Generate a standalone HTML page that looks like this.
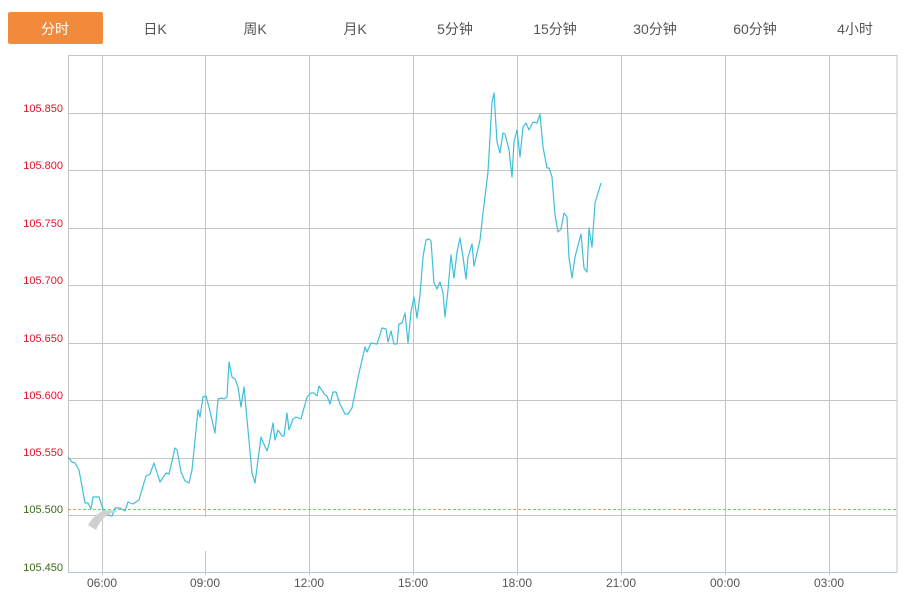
<!DOCTYPE html>
<html><head><meta charset="utf-8"><style>
body{margin:0;background:#fff;width:915px;height:595px;overflow:hidden;font-family:"Liberation Sans","Noto Sans CJK SC",sans-serif}
</style></head><body>
<svg width="915" height="595" xmlns="http://www.w3.org/2000/svg" style="position:absolute;left:0;top:0">
<rect x="8" y="12" width="95" height="32" rx="2" fill="#f28a3c"/>
<g font-size="14" fill="#555" text-anchor="middle" font-family="Liberation Sans,Noto Sans CJK SC,sans-serif">
<text x="55" y="34" fill="#fff">分时</text>
<text x="155" y="34">日K</text>
<text x="255" y="34">周K</text>
<text x="355" y="34">月K</text>
<text x="455" y="34">5分钟</text>
<text x="555" y="34">15分钟</text>
<text x="655" y="34">30分钟</text>
<text x="755" y="34">60分钟</text>
<text x="855" y="34">4小时</text>
</g>
<g stroke="#c4c4c4" stroke-width="1" fill="none">
<rect x="68.5" y="55.5" width="828.5" height="517"/>
<path d="M68 113.5H897M68 170.5H897M68 228.5H897M68 285.5H897M68 343.5H897M68 400.5H897M68 458.5H897M68 515.5H897"/>
<path d="M102.5 55V575M205.5 55V575M309.5 55V575M413.5 55V575M517.5 55V575M621.5 55V575M725.5 55V575M829.5 55V575"/>
</g>
<path d="M68 572.5H897" stroke="#b8c8d8"/>
<path d="M68 509.5H897" stroke="#e8703a" stroke-dasharray="3,2" stroke-width="0.8"/>
<g font-size="11" text-anchor="end">
<text x="63" y="112" fill="#e8102a">105.850</text>
<text x="63" y="169" fill="#e8102a">105.800</text>
<text x="63" y="227" fill="#e8102a">105.750</text>
<text x="63" y="284" fill="#e8102a">105.700</text>
<text x="63" y="342" fill="#e8102a">105.650</text>
<text x="63" y="399" fill="#e8102a">105.600</text>
<text x="63" y="456" fill="#e8102a">105.550</text>
<text x="63" y="513" fill="#3a6a1a">105.500</text>
<text x="63" y="571" fill="#3a6a1a">105.450</text>
</g>
<g font-size="12" fill="#555" text-anchor="middle">
<text x="102" y="587">06:00</text><text x="205" y="587">09:00</text><text x="309" y="587">12:00</text><text x="413" y="587">15:00</text><text x="517" y="587">18:00</text><text x="621" y="587">21:00</text><text x="725" y="587">00:00</text><text x="829" y="587">03:00</text>
</g>
<polyline fill="none" stroke="#3fbfd9" stroke-width="1.2" stroke-linejoin="round" points="68,457 72,462 75,463 79,470 85,503 88,503 91,509 93,497 99,497 103,509 108,515 112,516 115,508 120,508 125,511 128,502 133,504 139,500 146,476 150,474 154,463 160,482 166,473 169,474 175,448 177,450 181,472 185,481 189,483 192,470 198,410 200,417 203,397 206,396 209,407 215,433 218,399 222,398 224,399 227,397 229,362 232,377 235,379 238,387 241,407 244,387 252,473 255,483 261,437 263,442 267,451 269,444 273,423 275,440 278,430 282,436 284,436 287,413 289,430 293,419 296,417 301,419 307,397 311,393 314,393 317,396 319,386 325,395 327,396 330,404 333,392 336,392 340,404 345,414 348,414 352,408 359,373 365,347 367,352 371,343 377,344 382,328 386,329 388,342 391,331 394,344 397,344 399,324 402,323 405,313 408,343 411,312 414,297 417,318 420,295 423,257 426,240 429,239 431,241 434,283 437,289 440,282 443,293 445,317 448,290 451,255 454,278 457,252 460,238 463,257 466,279 468,257 472,244 474,266 480,240 483,213 488,172 492,102 494,93 497,142 500,153 503,133 505,134 509,150 512,177 514,142 517,130 520,157 523,127 526,123 529,130 533,122 537,123 540,114 543,147 547,168 549,168 552,177 555,215 558,232 561,229 564,213 567,217 569,258 572,278 575,257 581,234 584,268 587,272 589,228 592,247 595,203 601,183"/>
<rect x="118" y="517" width="95" height="34" fill="#fff"/>
<path d="M88 525 Q100 505 118 512 Q104 512 96 530 Z" fill="#d0d0d0"/>
</svg>
</body></html>
